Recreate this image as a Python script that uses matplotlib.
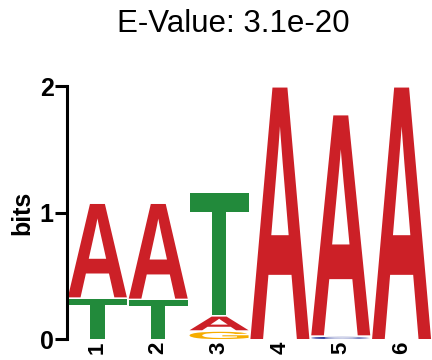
import matplotlib
matplotlib.use('Agg')
import matplotlib.pyplot as plt
from matplotlib.textpath import TextPath
from matplotlib.patches import PathPatch
from matplotlib.font_manager import FontProperties
from matplotlib import transforms

# motif columns, letters stacked bottom -> top with their heights in bits
positions = [1, 2, 3, 4, 5, 6]
letters = [['T', 'A'], ['T', 'A'], ['G', 'A', 'T'], ['A'], ['C', 'A'], ['A']]
heights = [[0.33, 0.75], [0.32, 0.76], [0.07, 0.12, 0.98], [2.0], [0.03, 1.75], [2.0]]
title = 'E-Value: 3.1e-20'

colors = {'A': '#cc2027', 'C': '#2a3a9e', 'G': '#f6ad00', 'T': '#228a3b'}
fp = FontProperties(family='Liberation Sans', weight='bold')


def draw_letter(ax, letter, x, y, h, w=0.97, gap=0.012):
    tp = TextPath((0, 0), letter, size=1, prop=fp)
    bb = tp.get_extents()
    hh = max(h - gap, 0.005)
    t = (transforms.Affine2D()
         .translate(-bb.x0, -bb.y0)
         .scale(w / bb.width, hh / bb.height)
         .translate(x - w / 2, y))
    ax.add_patch(PathPatch(t.transform_path(tp), fc=colors[letter], ec='none'))


fig = plt.figure(figsize=(4.32, 3.6), dpi=100)
ax = fig.add_axes([0.155, 0.058, 0.845, 0.703])

for x, lets, hs in zip(positions, letters, heights):
    y = 0.0
    for l, h in zip(lets, hs):
        draw_letter(ax, l, x, y, h)
        y += h

ax.set_xlim(0.5, 6.5)
ax.set_ylim(0, 2)
ax.set_yticks([0, 1, 2])
ax.set_xticks(positions)
ax.set_xticklabels([str(p) for p in positions], rotation=90, fontsize=16,
                   fontweight='bold', family='Liberation Sans')
ax.set_yticklabels(['0', '1', '2'], fontsize=18, fontweight='bold',
                   family='Liberation Sans')
ax.tick_params(axis='x', length=0, pad=2)
ax.tick_params(axis='y', length=8.5, width=2.2, pad=1)
for s in ['top', 'right', 'bottom']:
    ax.spines[s].set_visible(False)
ax.spines['left'].set_linewidth(2.2)
ax.set_ylabel('bits', fontsize=18, fontweight='bold', family='Liberation Sans', labelpad=4)
fig.text(0.54, 0.933, title, ha='center', va='center', fontsize=22.5,
         family='Liberation Sans')

fig.savefig('out.png', dpi=100)
